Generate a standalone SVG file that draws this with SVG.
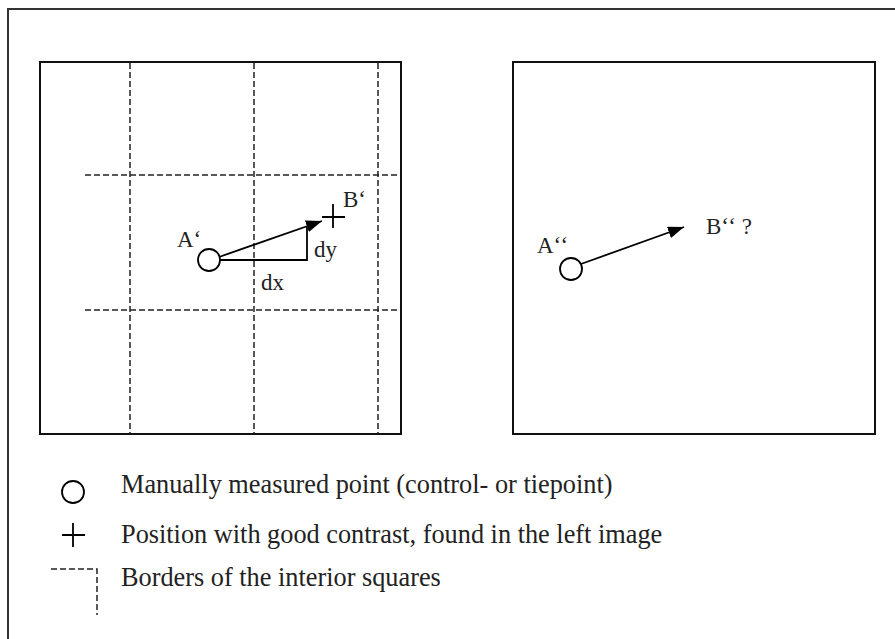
<svg xmlns="http://www.w3.org/2000/svg" width="895" height="639" viewBox="0 0 895 639">
<defs>
<style>
.frame{fill:none;stroke:#333;stroke-width:2}
.box{fill:none;stroke:#111;stroke-width:2}
.dash{fill:none;stroke:#222;stroke-width:1.5;stroke-dasharray:6,3}
.ln{fill:none;stroke:#000;stroke-width:1.8}
.pt{fill:#fff;stroke:#000;stroke-width:1.8}
.t{font-family:"Liberation Serif","Times New Roman",serif;font-size:23px;fill:#222}
.lg{font-family:"Liberation Serif","Times New Roman",serif;font-size:26.3px;fill:#222}
</style>
<marker id="ah" markerWidth="16" markerHeight="12" refX="16" refY="6" orient="auto" markerUnits="userSpaceOnUse" viewBox="0 0 16 12">
<path d="M0,0 L16,6 L0,12 z" fill="#000"/>
</marker>
</defs>
<path class="frame" d="M8,640 V9 H896"/>
<g id="left-image">
<rect class="box" x="40" y="62" width="361" height="372"/>
<line class="dash" x1="130" y1="63" x2="130" y2="433"/>
<line class="dash" x1="254" y1="63" x2="254" y2="433"/>
<line class="dash" x1="378" y1="63" x2="378" y2="433"/>
<line class="dash" x1="85" y1="175" x2="399" y2="175"/>
<line class="dash" x1="85" y1="310" x2="399" y2="310"/>
</g>
<g id="right-image">
<rect class="box" x="513" y="62" width="362" height="372"/>
</g>
<g id="connectors">
<polyline class="ln" points="219,260 307,260 307,227"/>
<line class="ln" x1="219" y1="257" x2="322" y2="221" marker-end="url(#ah)"/>
<line class="ln" x1="581" y1="264" x2="684" y2="227" marker-end="url(#ah)"/>
</g>
<g id="A1">
<circle class="pt" cx="209" cy="260" r="11"/>
<text class="t" x="177" y="247">A‘</text>
</g>
<g id="B1">
<path class="ln" d="M322,217 H345 M333,204 V228"/>
<text class="t" x="343" y="207">B‘</text>
</g>
<text class="t" x="314" y="257">dy</text>
<text class="t" x="261" y="290">dx</text>
<g id="A2">
<circle class="pt" cx="571" cy="269" r="11"/>
<text class="t" x="537" y="253">A‘<tspan dx="1">‘</tspan></text>
</g>
<g id="B2">
<text class="t" x="706" y="234">B‘<tspan dx="1">‘</tspan> ?</text>
</g>
<g id="legend">
<circle class="pt" cx="73" cy="492" r="11"/>
<text class="lg" x="121" y="493">Manually measured point (control- or tiepoint)</text>
<path class="ln" d="M62,535 H85 M73,523 V547"/>
<text class="lg" x="121" y="543">Position with good contrast, found in the left image</text>
<polyline class="dash" points="51,569 97,569 97,615"/>
<text class="lg" x="121" y="586">Borders of the interior squares</text>
</g>
</svg>
